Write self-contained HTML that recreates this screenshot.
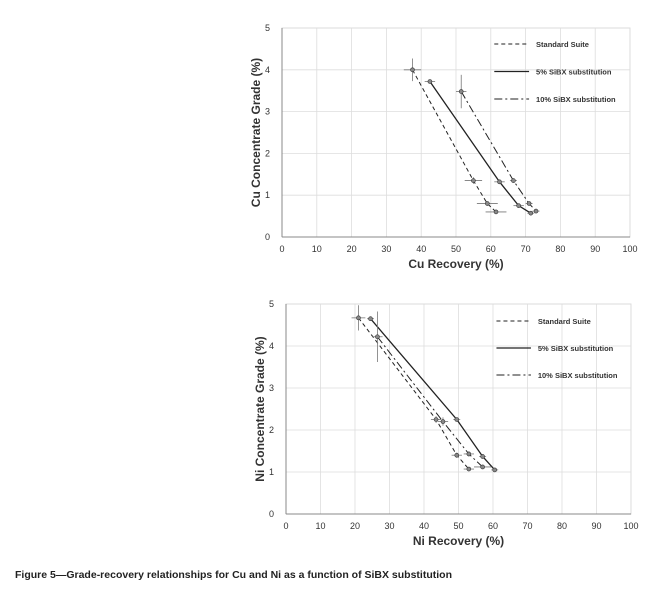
<!DOCTYPE html>
<html><head><meta charset="utf-8"><style>
body{margin:0;background:#fff;width:655px;height:595px;overflow:hidden;font-family:"Liberation Sans",sans-serif}
</style></head><body>
<svg id="s" width="655" height="595" xmlns="http://www.w3.org/2000/svg" font-family="Liberation Sans, sans-serif">
<text x="15" y="578" font-size="10.5" font-weight="bold" fill="#222">Figure 5—Grade-recovery relationships for Cu and Ni as a function of SiBX substitution</text>
</svg>
<script>
const xTicks=[0,10,20,30,40,50,60,70,80,90,100];
const yTicks=[0,1,2,3,4,5];
const seriesNames=["Standard Suite","5% SiBX substitution","10% SiBX substitution"];
const cuStdX=[37.5,55,59,61.5], cuStdY=[4.0,1.35,0.8,0.6];
const cu5X=[42.5,62.5,68,71.5], cu5Y=[3.72,1.32,0.75,0.57];
const cu10X=[51.5,66.5,71,73], cu10Y=[3.48,1.35,0.8,0.62];
const cuErrX=[[2.5,2.5,3,3],[1.5,1.5,1.5,1],[1.5,1,1,1]], cuErrY=[[0.27,0.08,0.05,0.03],[0.05,0.05,0.04,0.03],[0.4,0.05,0.04,0.03]];
const niStdX=[21,43.5,49.5,53], niStdY=[4.67,2.25,1.4,1.07];
const ni5X=[24.5,49.5,57,60.5], ni5Y=[4.65,2.25,1.37,1.05];
const ni10X=[26.5,45.5,53,57], ni10Y=[4.22,2.2,1.43,1.12];
const niErrX=[[2,1.5,1.5,1.5],[1,1,1,1],[1.5,1.5,1.5,2.5]], niErrY=[[0.3,0.08,0.06,0.04],[0.05,0.05,0.05,0.03],[0.6,0.1,0.06,0.05]];
const NS="http://www.w3.org/2000/svg", svg=document.getElementById('s');
function mk(t,a,p){const e=document.createElementNS(NS,t);for(const k in a)e.setAttribute(k,a[k]);(p||svg).appendChild(e);return e;}
const dashes=["4,3","","8,3,2,3"];
function chart(c){
 const g=mk('g',{});
 
 
 const sx=v=>c.x0+(c.x1-c.x0)*v/100, sy=v=>c.y0-(c.y0-c.y5)*v/5;
 mk('rect',{x:c.x0,y:c.y5,width:c.x1-c.x0,height:c.y0-c.y5,fill:'none',stroke:'#ccc','stroke-width':0.8},g);
 xTicks.forEach(t=>{mk('line',{x1:sx(t),x2:sx(t),y1:c.y5,y2:c.y0,stroke:'#ddd','stroke-width':0.8},g);
  const l=mk('text',{x:sx(t),y:c.y0+15,'font-size':9,'text-anchor':'middle',fill:'#333'},g);l.textContent=t;
  
  });
 yTicks.forEach(t=>{mk('line',{x1:c.x0,x2:c.x1,y1:sy(t),y2:sy(t),stroke:'#ddd','stroke-width':0.8},g);
  const l=mk('text',{x:c.x0-12,y:sy(t)+3,'font-size':9,'text-anchor':'end',fill:'#333'},g);l.textContent=t;
  
  });
 mk('line',{x1:c.x0,x2:c.x1,y1:c.y0,y2:c.y0,stroke:'#888','stroke-width':1},g);
 mk('line',{x1:c.x0,x2:c.x0,y1:c.y5,y2:c.y0,stroke:'#888','stroke-width':1},g);
 const xt=mk('text',{x:(c.x0+c.x1)/2,y:c.y0+31,'font-size':12,'font-weight':'bold','text-anchor':'middle',fill:'#333'},g);xt.textContent=c.xt;
 
 
 const yc=(c.y0+c.y5)/2, yt=mk('text',{x:c.x0-22,y:yc,'font-size':12,'font-weight':'bold','text-anchor':'middle',fill:'#333',transform:`rotate(-90 ${c.x0-22} ${yc})`},g);yt.textContent=c.yt;
 
 
 c.series.forEach((s,i)=>{
  const pts=s[0].map((v,j)=>sx(v)+','+sy(s[1][j])).join(' ');
  const pl=mk('polyline',{points:pts,fill:'none',stroke:'#222','stroke-width':i==1?1.3:1,'stroke-dasharray':dashes[i]},g);
  
  
  s[0].forEach((v,j)=>{const X=sx(v),Y=sy(s[1][j]),ex=(sx(c.ex[i][j])-sx(0)),ey=(sy(0)-sy(c.ey[i][j]));
   mk('line',{x1:X-ex,x2:X+ex,y1:Y,y2:Y,stroke:'#777','stroke-width':0.8},g);
   mk('line',{x1:X,x2:X,y1:Y-ey,y2:Y+ey,stroke:'#777','stroke-width':0.8},g);
   const m=mk('circle',{cx:X,cy:Y,r:2,fill:'#888',stroke:'#333','stroke-width':0.6},g);
   
   });
 });
 seriesNames.forEach((n,i)=>{const y=c.ly+i*c.ld;
  const le=mk('g',{},g);
  
  
  mk('line',{x1:sx(61),x2:sx(71),y1:y,y2:y,stroke:'#222','stroke-width':i==1?1.3:1,'stroke-dasharray':dashes[i]},le);
  const t=mk('text',{x:sx(73),y:y+3,'font-size':7.5,'font-weight':'bold',fill:'#333'},le);t.textContent=n;});
}
chart({name:'cu-chart',x0:282,x1:630,y0:237,y5:28,xt:'Cu Recovery (%)',yt:'Cu Concentrate Grade (%)',ly:44,ld:27.5,
 series:[[cuStdX,cuStdY],[cu5X,cu5Y],[cu10X,cu10Y]],ex:cuErrX,ey:cuErrY});
chart({name:'ni-chart',x0:286,x1:631,y0:514,y5:304,xt:'Ni Recovery (%)',yt:'Ni Concentrate Grade (%)',ly:321,ld:27,
 series:[[niStdX,niStdY],[ni5X,ni5Y],[ni10X,ni10Y]],ex:niErrX,ey:niErrY});
</script>
</body></html>
